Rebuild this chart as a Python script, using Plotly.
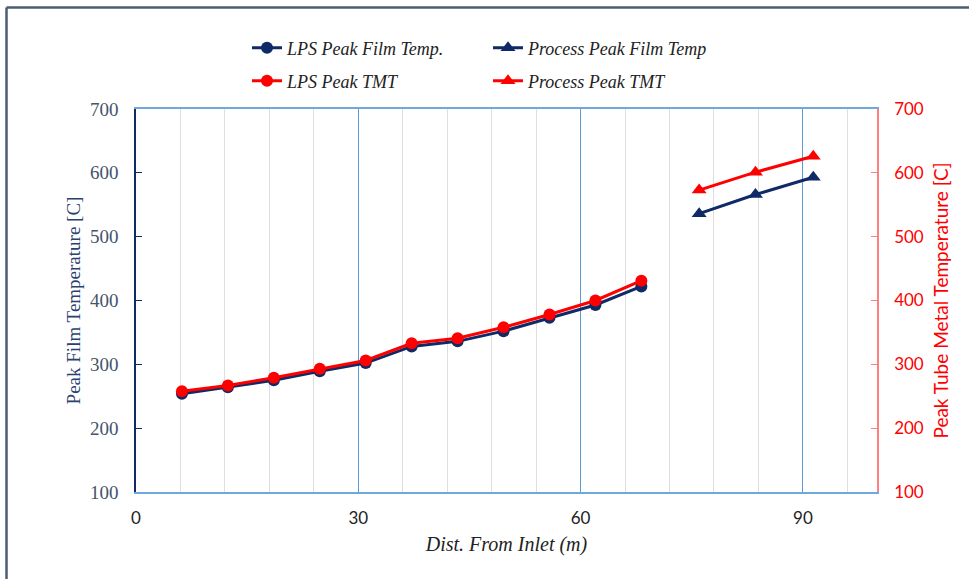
import plotly.graph_objects as go

# Distance from inlet (m) for each tube pass
lps_dist = [6.2, 12.4, 18.6, 24.8, 31.0, 37.2, 43.4, 49.6, 55.8, 62.0, 68.2]
process_dist = [76.0, 83.6, 91.4]

# Peak film temperatures [C]
lps_film = [254, 264, 275, 289, 302, 328, 336, 352, 373, 393, 422]
process_film = [536, 566, 593]

# Peak tube metal temperatures [C]
lps_tmt = [258, 267, 279, 293, 306, 333, 341, 358, 378, 400, 431]
process_tmt = [573, 601, 626]

x_ticks = [0, 30, 60, 90]
y_ticks = [100, 200, 300, 400, 500, 600, 700]

NAVY = "#0f2a66"
RED = "#ff0000"
SERIF = "Liberation Serif, DejaVu Serif, serif"
SANS = "Lato, Liberation Sans, sans-serif"

W, H = 969, 579
ML, MR, MT, MB = 136, 92, 109, 87

fig = go.Figure()

fig.add_trace(go.Scatter(
    x=lps_dist, y=lps_film, name="LPS Peak Film Temp.", mode="lines+markers",
    line=dict(color=NAVY, width=3), marker=dict(symbol="circle", size=12, color=NAVY),
    legend="legend"))
fig.add_trace(go.Scatter(
    x=process_dist, y=process_film, name="Process Peak Film Temp", mode="lines+markers",
    line=dict(color=NAVY, width=3), marker=dict(symbol="triangle-up", size=13, color=NAVY),
    legend="legend"))
fig.add_trace(go.Scatter(
    x=lps_dist, y=lps_tmt, name="LPS Peak TMT", mode="lines+markers", yaxis="y2",
    line=dict(color=RED, width=3), marker=dict(symbol="circle", size=12, color=RED),
    legend="legend2"))
fig.add_trace(go.Scatter(
    x=process_dist, y=process_tmt, name="Process Peak TMT", mode="lines+markers", yaxis="y2",
    line=dict(color=RED, width=3), marker=dict(symbol="triangle-up", size=13, color=RED),
    legend="legend2"))

legend_common = dict(
    orientation="h", xref="container", yref="container",
    xanchor="left", yanchor="middle", entrywidth=196,
    font=dict(family=SERIF, size=18, color="#222222", style="italic"),
    bgcolor="rgba(0,0,0,0)", itemwidth=30, tracegroupgap=0,
)

# outer frame of the chart
px = lambda v: (v - ML) / (W - ML - MR)
py = lambda v: (H - MB - v) / (H - MT - MB)
frame = dict(color="#4b5d73", width=2.5)
shapes = [
    dict(type="line", xref="paper", yref="paper", x0=px(6.5), x1=px(6.5), y0=py(7.5), y1=py(590), line=frame),
    dict(type="line", xref="paper", yref="paper", x0=px(6.5), x1=px(990), y0=py(7.5), y1=py(7.5), line=frame),
]

fig.update_layout(
    width=W, height=H,
    margin=dict(l=ML, r=MR, t=MT, b=MB, autoexpand=False),
    paper_bgcolor="white", plot_bgcolor="white",
    showlegend=True,
    legend=dict(**legend_common, x=247 / W, y=1 - 48 / H),
    legend2=dict(**legend_common, x=247 / W, y=1 - 81 / H),
    shapes=shapes,
    xaxis=dict(
        range=[0, 100], tickvals=x_ticks, ticktext=[str(v) for v in x_ticks],
        showline=True, linecolor="#6fa8dc", linewidth=1.5, mirror=True,
        showgrid=True, gridcolor="#5b9bd5", gridwidth=1,
        minor=dict(dtick=6, tick0=0, showgrid=True, gridcolor="#dedede", gridwidth=1.2),
        ticks="", zeroline=False, ticklabelstandoff=10,
        tickfont=dict(family=SANS, size=17, color="#222222"),
        title=dict(text="Dist. From Inlet (m)", standoff=10,
                   font=dict(family=SERIF, size=20, color="#222222", style="italic")),
    ),
    yaxis=dict(
        range=[100, 700], tickvals=y_ticks,
        showline=True, linecolor=NAVY, linewidth=1.5,
        showgrid=False, zeroline=False,
        ticks="inside", ticklen=6, tickcolor=NAVY, ticklabelstandoff=12,
        tickfont=dict(family=SERIF, size=19, color="#44546a"),
        title=dict(text="Peak Film Temperature [C]", standoff=4,
                   font=dict(family=SERIF, size=19, color="#2a4170")),
    ),
    yaxis2=dict(
        range=[100, 700], tickvals=y_ticks, overlaying="y", side="right",
        showline=True, linecolor="#ff8080", linewidth=1.5,
        showgrid=False, zeroline=False,
        ticks="inside", ticklen=6, tickcolor="#ff8080", ticklabelstandoff=12,
        tickfont=dict(family=SANS, size=17, color=RED),
        title=dict(text="Peak Tube Metal Temperature [C]", standoff=12,
                   font=dict(family=SANS, size=19, color=RED)),
    ),
)

fig.write_html("out.html")
